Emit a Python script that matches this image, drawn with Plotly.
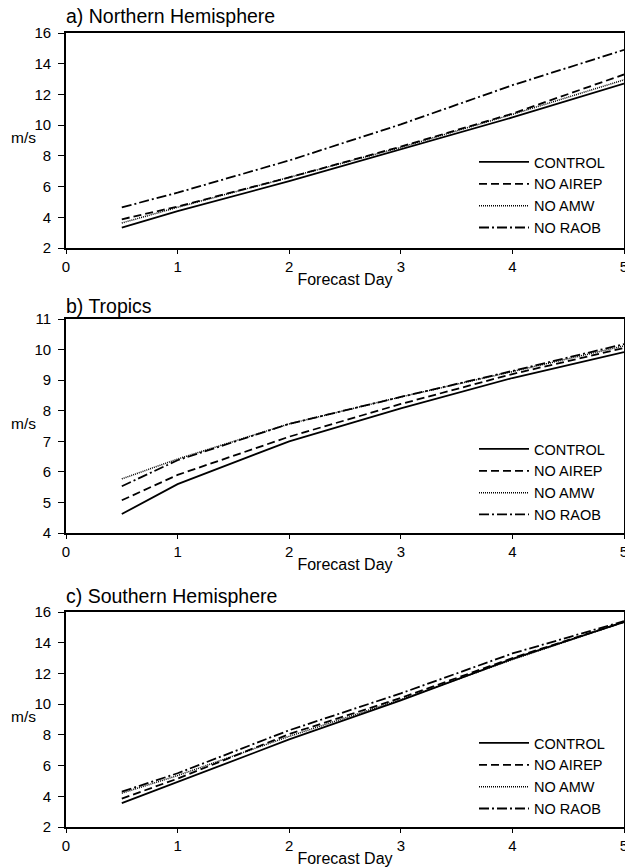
import plotly.graph_objects as go

days = [0.5, 1, 2, 3, 4, 5]
series_names = ["CONTROL", "NO AIREP", "NO AMW", "NO RAOB"]

nh_control = [3.33, 4.4, 6.35, 8.4, 10.5, 12.7]
nh_no_airep = [3.87, 4.7, 6.6, 8.6, 10.75, 13.3]
nh_no_amw = [3.63, 4.65, 6.6, 8.55, 10.7, 12.95]
nh_no_raob = [4.65, 5.6, 7.7, 10.05, 12.6, 14.9]

tr_control = [4.62, 5.6, 7.0, 8.08, 9.07, 9.92]
tr_no_airep = [5.07, 5.9, 7.15, 8.22, 9.2, 10.05]
tr_no_amw = [5.77, 6.42, 7.57, 8.45, 9.28, 10.12]
tr_no_raob = [5.53, 6.38, 7.57, 8.45, 9.3, 10.18]

sh_control = [3.55, 4.95, 7.7, 10.25, 12.95, 15.35]
sh_no_airep = [3.85, 5.15, 8.05, 10.4, 13.0, 15.35]
sh_no_amw = [4.2, 5.35, 7.9, 10.3, 12.9, 15.35]
sh_no_raob = [4.3, 5.5, 8.3, 10.7, 13.3, 15.4]

panel_titles = ["a) Northern Hemisphere", "b) Tropics", "c) Southern Hemisphere"]
y_ranges = [(2, 16, 2), (4, 11, 1), (2, 16, 2)]
x_ticks = [0, 1, 2, 3, 4, 5]

panels = [
    [nh_control, nh_no_airep, nh_no_amw, nh_no_raob],
    [tr_control, tr_no_airep, tr_no_amw, tr_no_raob],
    [sh_control, sh_no_airep, sh_no_amw, sh_no_raob],
]

styles = [
    dict(color="black", width=1.8, dash="solid"),
    dict(color="black", width=1.8, dash="8px,4px"),
    dict(color="black", width=1.5, dash="1px,1px"),
    dict(color="black", width=1.8, dash="10px,3px,2px,3px"),
]

FONT = "Liberation Sans, Arial, sans-serif"
W, H = 625, 868
ML, MR, MT, MB = 66, 1, 33, 41
plot_h = H - MT - MB
plot_w = W - ML - MR
# pixel tops/bottoms of each panel
pix = [(33, 248), (319, 533), (612, 827)]
domains = [((H - MB - b) / plot_h, (H - MB - t) / plot_h) for t, b in pix]
legend_tops = [146, 433, 727]
title_shift = [17, 13, 16]

fig = go.Figure()
legend_keys = ["legend", "legend2", "legend3"]
for p, data in enumerate(panels):
    ax = "" if p == 0 else str(p + 1)
    for s, vals in enumerate(data):
        fig.add_trace(go.Scatter(
            x=days, y=vals, mode="lines", name=series_names[s],
            line=styles[s], xaxis="x" + ax, yaxis="y" + ax,
            legend=legend_keys[p], showlegend=True,
        ))

layout = dict(
    width=W, height=H,
    margin=dict(l=ML, r=MR, t=MT, b=MB, autoexpand=False),
    paper_bgcolor="white", plot_bgcolor="white",
    font=dict(family=FONT, color="black", size=15),
    annotations=[],
)
for p in range(3):
    ax = "" if p == 0 else str(p + 1)
    ymin, ymax, dy = y_ranges[p]
    layout["xaxis" + ax] = dict(
        domain=[0, 1], range=[0, 5], anchor="y" + ax,
        tickvals=x_ticks, ticks="outside", ticklen=4, tickwidth=1.3,
        tickcolor="black", showline=True, linecolor="black", linewidth=1.6,
        mirror=True, showgrid=False, zeroline=False, automargin=False,
        tickfont=dict(size=15), ticklabelstandoff=0, ticklabeloverflow="allow",
        title=dict(text="Forecast Day", font=dict(size=16), standoff=0),
    )
    layout["yaxis" + ax] = dict(
        domain=list(domains[p]), range=[ymin, ymax], anchor="x" + ax,
        dtick=dy, tick0=ymin, ticks="outside", ticklen=6, tickwidth=1.3,
        tickcolor="black", showline=True, linecolor="black", linewidth=1.6,
        mirror=True, showgrid=False, zeroline=False, automargin=False,
        tickfont=dict(size=15), ticklabelstandoff=4,
    )
    layout["annotations"].append(dict(
        text=panel_titles[p], xref="x" + ax + " domain", yref="y" + ax + " domain",
        x=0, y=1, xanchor="left", yanchor="middle", yshift=title_shift[p],
        showarrow=False, font=dict(size=19.5), xshift=-2,
    ))
    layout["annotations"].append(dict(
        text="m/s", xref="x" + ax + " domain", yref="y" + ax + " domain",
        x=0, y=0.5, xanchor="right", yanchor="middle", xshift=-28, yshift=3,
        showarrow=False, font=dict(size=15.5),
    ))
    layout[legend_keys[p]] = dict(
        x=(474 - ML) / plot_w, xanchor="left",
        y=(H - MB - legend_tops[p]) / plot_h, yanchor="top",
        bgcolor="rgba(0,0,0,0)", borderwidth=0,
        font=dict(size=14.5), itemwidth=50, tracegroupgap=0,
    )

fig.update_layout(**layout)
fig.write_html(
    "out.html",
    config={"displayModeBar": False},
    post_script="document.body.style.margin='0';document.body.style.overflow='hidden';",
)
